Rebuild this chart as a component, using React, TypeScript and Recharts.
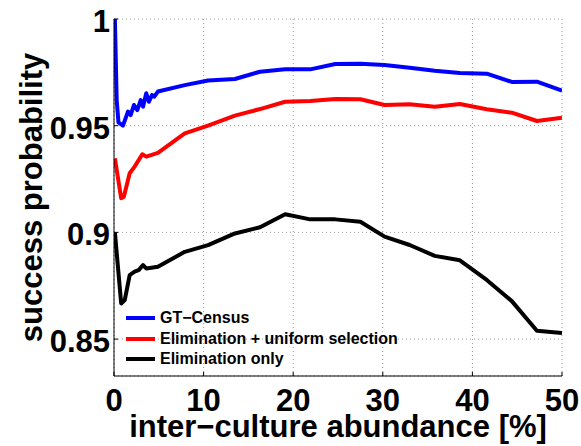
import { LineChart, Line, XAxis, YAxis, CartesianGrid, Legend } from 'recharts';

const FONT = '"Liberation Sans", Arial, Helvetica, sans-serif';

// inter-culture abundance [%] and success probability per method
const CENSUS_X = [0.1, 0.3, 0.5, 1.0, 1.56, 1.86, 2.23, 2.6, 2.98, 3.24, 3.6, 3.9, 4.24, 4.5, 4.9, 7.9, 10.5, 13.5, 16.3, 19.1, 21.9, 24.7, 27.5, 30.2, 33.0, 35.8, 38.6, 41.6, 44.4, 47.2, 50];
const CENSUS_Y = [1.0, 0.962, 0.9515, 0.950, 0.9566, 0.955, 0.9597, 0.9573, 0.962, 0.9589, 0.9652, 0.9612, 0.9644, 0.9636, 0.966, 0.969, 0.9712, 0.9719, 0.9753, 0.9764, 0.9764, 0.9789, 0.979, 0.9784, 0.9772, 0.9758, 0.9747, 0.9744, 0.9705, 0.9706, 0.9664];

const UNIFORM_X = [0.1, 0.8, 1.1, 1.75, 2.3, 3.16, 3.6, 4.9, 7.9, 10.5, 13.5, 16.3, 19.1, 21.9, 24.7, 27.5, 30.2, 33.0, 35.8, 38.6, 41.6, 44.4, 47.2, 50];
const UNIFORM_Y = [0.9347, 0.916, 0.9167, 0.9277, 0.9308, 0.9366, 0.9355, 0.9373, 0.9464, 0.950, 0.9547, 0.9578, 0.9612, 0.9616, 0.9625, 0.9624, 0.9597, 0.960, 0.9589, 0.9602, 0.9577, 0.9561, 0.9522, 0.9537];

const ELIM_X = [0.1, 0.8, 1.2, 1.75, 2.3, 2.75, 3.24, 3.6, 4.9, 7.9, 10.5, 13.5, 16.3, 19.1, 21.9, 24.7, 27.5, 30.2, 33.0, 35.8, 38.6, 41.6, 44.4, 47.2, 50];
const ELIM_Y = [0.900, 0.8667, 0.8683, 0.880, 0.8816, 0.8823, 0.8847, 0.8831, 0.8839, 0.8909, 0.894, 0.8995, 0.9024, 0.9085, 0.9061, 0.9061, 0.905, 0.898, 0.8941, 0.889, 0.8869, 0.8777, 0.8678, 0.8539, 0.8528];

const X_TICKS = [0, 10, 20, 30, 40, 50];
const Y_TICKS = [0.85, 0.9, 0.95, 1];

const toPoints = (xs: number[], ys: number[]) => xs.map((x, i) => ({ x, y: ys[i] }));

const SERIES = [
  { name: 'GT\u2212Census', color: '#0000ff', data: toPoints(CENSUS_X, CENSUS_Y) },
  { name: 'Elimination + uniform selection', color: '#ff0000', data: toPoints(UNIFORM_X, UNIFORM_Y) },
  { name: 'Elimination only', color: '#000000', data: toPoints(ELIM_X, ELIM_Y) },
];

const tickStyle = { fontFamily: FONT, fontWeight: 'bold', fontSize: 31, fill: '#000' };

const renderLegend = () => (
  <div style={{ display: 'flex', flexDirection: 'column' }}>
    {SERIES.map((s) => (
      <div key={s.name} style={{ display: 'flex', alignItems: 'center', height: 20.5 }}>
        <span style={{ display: 'inline-block', width: 29, height: 4, background: s.color, marginRight: 5 }} />
        <span style={{ fontFamily: FONT, fontWeight: 'bold', fontSize: 16, color: '#000', whiteSpace: 'nowrap' }}>
          {s.name}
        </span>
      </div>
    ))}
  </div>
);

const App = () => {
  return (
    <div style={{ position: 'absolute', left: 0, top: 0, background: '#fff' }}>
      <LineChart width={581} height={446} margin={{ top: 19, right: 19, left: 0, bottom: 0 }}>
        <CartesianGrid stroke="#999" strokeDasharray="1 3" />
        {/* ticks point inward, labels sit outside */}
        <XAxis
          type="number"
          dataKey="x"
          domain={[0, 50]}
          ticks={X_TICKS}
          height={70}
          tickLine={{ stroke: '#000' }}
          tickSize={-4}
          tickMargin={17}
          axisLine={{ stroke: '#000' }}
          tick={tickStyle}
          allowDataOverflow
          label={{
            content: ({ viewBox }: any) => (
              <text
                x={viewBox.x + viewBox.width / 2}
                y={437}
                textAnchor="middle"
                style={{ fontFamily: FONT, fontWeight: 'bold', fontSize: 31, fill: '#000' }}
              >
                inter{'\u2212'}culture abundance [%]
              </text>
            ),
          }}
        />
        <YAxis
          type="number"
          dataKey="y"
          domain={[0.8327, 1]}
          ticks={Y_TICKS}
          width={114}
          tickLine={{ stroke: '#000' }}
          tickSize={-4}
          tickMargin={8}
          axisLine={{ stroke: '#000' }}
          tick={{ ...tickStyle, dy: 2 }}
          tickFormatter={(v: number) => String(v)}
          allowDataOverflow
          label={{
            content: ({ viewBox }: any) => {
              const cy = viewBox.y + viewBox.height / 2;
              return (
                <text
                  x={31}
                  y={cy}
                  textAnchor="middle"
                  dominantBaseline="central"
                  transform={`rotate(-90, 31, ${cy})`}
                  style={{ fontFamily: FONT, fontWeight: 'bold', fontSize: 31, fill: '#000' }}
                >
                  success probability
                </text>
              );
            },
          }}
        />
        <Legend
          layout="vertical"
          align="center"
          verticalAlign="middle"
          content={renderLegend}
          wrapperStyle={{ left: 126, top: 308, width: 'auto' }}
        />
        {SERIES.map((s) => (
          <Line
            key={s.name}
            data={s.data}
            dataKey="y"
            name={s.name}
            type="linear"
            stroke={s.color}
            strokeWidth={4}
            strokeLinejoin="round"
            dot={false}
            activeDot={false}
            isAnimationActive={false}
          />
        ))}
      </LineChart>
    </div>
  );
};

export default App;
